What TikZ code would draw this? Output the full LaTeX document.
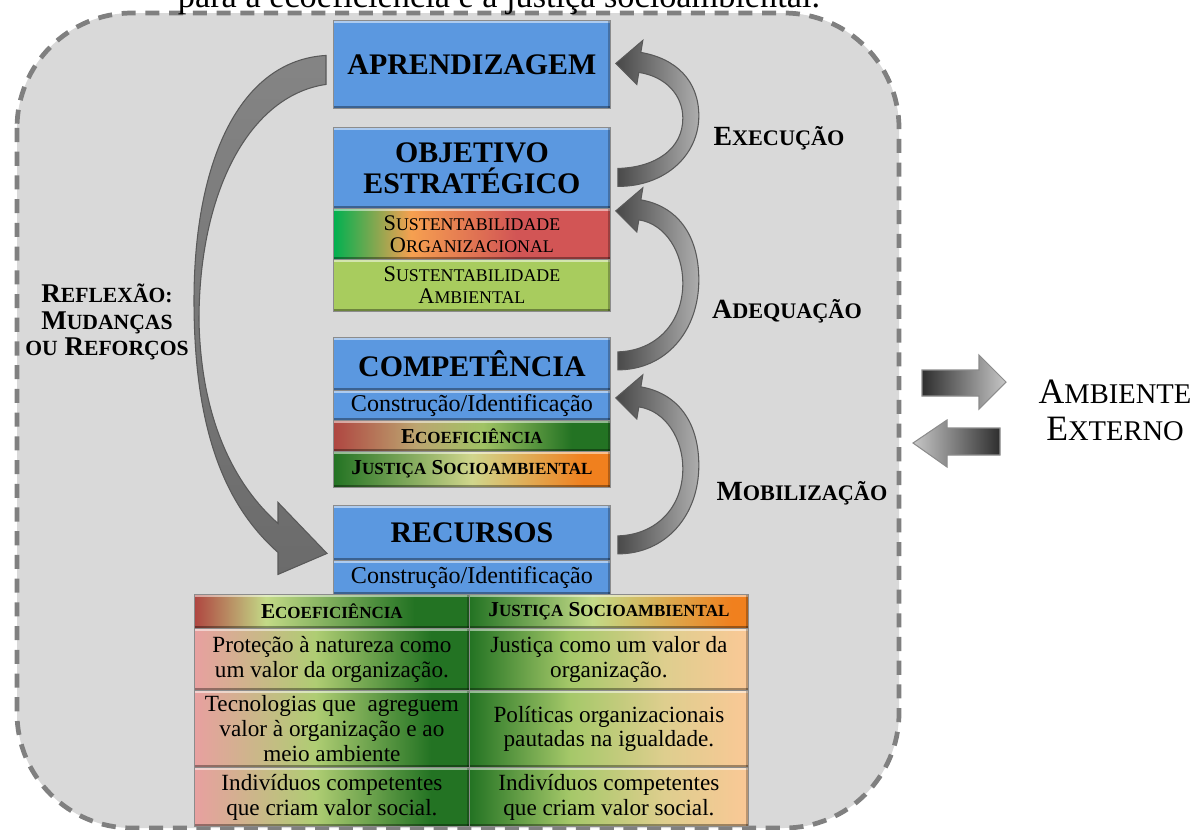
\documentclass[tikz,border=0pt]{standalone}
\usepackage{fontspec}
\setmainfont{Liberation Serif}
\usepackage{graphicx}
\usetikzlibrary{calc}

% fake small capitals: shrink the lower-case part of a word
\newcommand\lo[1]{\scalebox{0.8}{#1}}

\definecolor{bggrey}{RGB}{217,217,217}
\definecolor{bxblue}{RGB}{91,152,224}
\definecolor{sgreen}{RGB}{0,176,80}
\definecolor{sorange}{RGB}{246,160,80}
\definecolor{sred}{RGB}{210,85,85}
\definecolor{samb}{RGB}{168,204,94}
\definecolor{ered}{RGB}{175,70,65}
\definecolor{etan}{RGB}{188,165,112}
\definecolor{emid}{RGB}{160,195,100}
\definecolor{dgreen}{RGB}{35,115,35}
\definecolor{lgreen}{RGB}{195,218,135}
\definecolor{jlight}{RGB}{208,214,140}
\definecolor{jorange}{RGB}{240,128,30}
\definecolor{pinkc}{RGB}{232,160,160}
\definecolor{bmid}{RGB}{175,205,115}
\definecolor{rmid}{RGB}{165,200,105}
\definecolor{rtan}{RGB}{222,206,142}
\definecolor{peach}{RGB}{250,200,150}

% horizontal colour ramps (the 25bp..75bp range spans the box)
\pgfdeclarehorizontalshading{sorg}{100bp}{color(0bp)=(sgreen); color(25bp)=(sgreen); color(39bp)=(sorange); color(58bp)=(sred); color(75bp)=(sred); color(100bp)=(sred)}
\pgfdeclarehorizontalshading{ecoc}{100bp}{color(0bp)=(ered); color(25bp)=(ered); color(40bp)=(etan); color(52bp)=(emid); color(68bp)=(dgreen); color(75bp)=(dgreen); color(100bp)=(dgreen)}
\pgfdeclarehorizontalshading{jusc}{100bp}{color(0bp)=(dgreen); color(25bp)=(dgreen); color(50bp)=(jlight); color(70bp)=(jorange); color(75bp)=(jorange); color(100bp)=(jorange)}
\pgfdeclarehorizontalshading{hleft}{100bp}{color(0bp)=(ered); color(25bp)=(ered); color(38bp)=(lgreen); color(65bp)=(dgreen); color(75bp)=(dgreen); color(100bp)=(dgreen)}
\pgfdeclarehorizontalshading{hright}{100bp}{color(0bp)=(dgreen); color(25bp)=(dgreen); color(47bp)=(lgreen); color(72bp)=(jorange); color(75bp)=(jorange); color(100bp)=(jorange)}
\pgfdeclarehorizontalshading{bleft}{100bp}{color(0bp)=(pinkc); color(25bp)=(pinkc); color(47bp)=(bmid); color(68bp)=(dgreen); color(75bp)=(dgreen); color(100bp)=(dgreen)}
\pgfdeclarehorizontalshading{bright}{100bp}{color(0bp)=(dgreen); color(25bp)=(dgreen); color(43bp)=(rmid); color(60bp)=(rtan); color(75bp)=(peach); color(100bp)=(peach)}

% curved block arrow: tip at the given point, tail #2 pixels lower
\newcommand\bendarrow[2]{%
  \begin{scope}[shift={(#1)}]
    \path[arrowgrey] (2,{#2+9}) .. controls (50,{#2+9}) and (83,{0.8*#2}) .. (83,{0.46*#2})
      .. controls (83,{0.15*#2}) and (60,-5) .. (25,-11) -- (27,-23) -- (0,0) -- (21,21) -- (23,9)
      .. controls (50,13) and (67,{0.28*#2}) .. (67,{0.48*#2})
      .. controls (67,{0.75*#2}) and (40,{#2-10}) .. (2,{#2-9}) -- cycle;
  \end{scope}}

\begin{document}
\begin{tikzpicture}[x=0.02cm, y=-0.02cm,
  bevel/.style={path picture={
    \draw[white, opacity=0.5, line width=1.5pt]
      ([yshift=-0.9pt]path picture bounding box.north west) -- ([yshift=-0.9pt]path picture bounding box.north east);
    \draw[black, opacity=0.35, line width=1.6pt]
      ([yshift=0.6pt]path picture bounding box.south west) -- ([yshift=0.6pt]path picture bounding box.south east);
    \draw[black, opacity=0.25, line width=1.6pt]
      ([xshift=-0.6pt]path picture bounding box.south east) -- ([xshift=-0.6pt]path picture bounding box.north east);}},
  cell/.style={draw=black!45, line width=0.5pt, inner sep=0pt, anchor=north west, align=center, bevel},
  bluebox/.style={cell, fill=bxblue, minimum width=5.54cm, font=\fontsize{17}{17.5}\selectfont\bfseries},
  subbox/.style={cell, minimum width=5.54cm},
  leftcol/.style={cell, minimum width=5.5cm},
  rightcol/.style={cell, minimum width=5.58cm},
  body/.style={font=\fontsize{13.2}{14.2}\selectfont},
  head/.style={font=\fontsize{12.1}{12.5}\selectfont\bfseries},
  lab/.style={font=\fontsize{15.8}{16}\selectfont\bfseries, align=center},
  arrowgrey/.style={draw=black!65, line width=0.6pt, left color=black!72, right color=black!32},
]
\useasboundingbox (0,0) rectangle (1200,829);

% dashed frame of the organisation
\path[draw=black!50, fill=bggrey, line width=2.7pt, dash pattern=on 8pt off 5.5pt, rounded corners=2.3cm]
  (17,13) rectangle (899,828);

\node[anchor=base, font=\fontsize{19.5}{20}\selectfont] (title) at (499,7)
  {para a ecoeficiência e a justiça socioambiental.};

% central column
\node[bluebox, minimum height=1.76cm] (apr) at (333,20) {APRENDIZAGEM};
\node[bluebox, minimum height=1.62cm] (obj) at (333,127) {OBJETIVO\\ESTRATÉGICO};
\node[subbox, shade, shading=sorg, minimum height=1.02cm, font=\fontsize{12.7}{12.5}\selectfont] (sorg) at (333,208)
  {S\lo{USTENTABILIDADE}\\O\lo{RGANIZACIONAL}};
\node[subbox, fill=samb, minimum height=1.04cm, font=\fontsize{12.7}{12.5}\selectfont] (samb) at (333,259)
  {S\lo{USTENTABILIDADE}\\A\lo{MBIENTAL}};

\node[bluebox, minimum height=1.06cm] (comp) at (333,337) {COMPETÊNCIA};
\node[subbox, fill=bxblue, minimum height=0.6cm, font=\fontsize{13.7}{14}\selectfont] (cid1) at (333,390) {Construção/Identificação};
\node[subbox, shade, shading=ecoc, minimum height=0.62cm, head] (ecoc) at (333,420) {E\lo{COEFICIÊNCIA}};
\node[subbox, shade, shading=jusc, minimum height=0.72cm, head] (jusc) at (333,451) {J\lo{USTIÇA} S\lo{OCIOAMBIENTAL}};

\node[bluebox, minimum height=1.1cm] (rec) at (333,505) {RECURSOS};
\node[subbox, fill=bxblue, minimum height=0.68cm, font=\fontsize{13.7}{14}\selectfont] (cid2) at (333,560) {Construção/Identificação};

% resources table
\node[leftcol, shade, shading=hleft, minimum height=0.68cm, head] (h1) at (194,594) {E\lo{COEFICIÊNCIA}};
\node[rightcol, shade, shading=hright, minimum height=0.68cm, head] (h2) at (469,594) {J\lo{USTIÇA} S\lo{OCIOAMBIENTAL}};
\node[leftcol, shade, shading=bleft, minimum height=1.24cm, body] (l1) at (194,628) {Proteção à natureza como\\um valor da organização.};
\node[rightcol, shade, shading=bright, minimum height=1.24cm, body] (r1) at (469,628) {Justiça como um valor da\\organização.};
\node[leftcol, shade, shading=bleft, minimum height=1.54cm, body] (l2) at (194,690) {Tecnologias que\ \ agreguem\\valor à organização e ao\\meio ambiente};
\node[rightcol, shade, shading=bright, minimum height=1.54cm, body] (r2) at (469,690) {Políticas organizacionais\\pautadas na igualdade.};
\node[leftcol, shade, shading=bleft, minimum height=1.18cm, body] (l3) at (194,767) {Indivíduos competentes\\que criam valor social.};
\node[rightcol, shade, shading=bright, minimum height=1.18cm, body] (r3) at (469,767) {Indivíduos competentes\\que criam valor social.};

% reflection arrow from learning back to resources
\begin{scope}[shift={(apr.west)}]
  \path[draw=black!65, line width=0.6pt, top color=black!48, bottom color=black!58]
    (-7,-9) .. controls (-93,-4) and (-139,96) .. (-139,236)
    .. controls (-139,366) and (-108,441) .. (-55,488)
    -- (-55,510) -- (-6,489) -- (-55,438) -- (-55,459)
    .. controls (-98,421) and (-132,356) .. (-134,256)
    .. controls (-134,126) and (-83,31) .. (-7,20) -- cycle;
\end{scope}

% upward cycle arrows
\bendarrow{$(apr.east)+(5,-1)$}{114}
\bendarrow{$(obj.south east)+(5,2)$}{150}
\bendarrow{$(comp.south east)+(5,7)$}{147}

\node[lab] (exe) at (779,138) {E\lo{XECUÇÃO}};
\node[lab] (ade) at (787,311) {A\lo{DEQUAÇÃO}};
\node[lab] (mob) at (802,493) {M\lo{OBILIZAÇÃO}};
\node[font=\fontsize{15.4}{15}\selectfont\bfseries, align=center] (refl) at (107,322)
  {R\lo{EFLEXÃO:}\\M\lo{UDANÇAS}\\\lo{OU} R\lo{EFORÇOS}};

% exchange with the external environment
\node[font=\fontsize{20.3}{21}\selectfont, align=center] (amb) at (1115,410) {A\lo{MBIENTE}\\E\lo{XTERNO}};
\path[draw=black!45, line width=0.6pt, left color=black!82, right color=black!22]
  (922,370) -- (979,370) -- (979,355) -- (1006,382) -- (979,409) -- (979,396) -- (922,396) -- cycle;
\path[draw=black!45, line width=0.6pt, left color=black!22, right color=black!82]
  (1000,428) -- (947,428) -- (947,420) -- (913,443) -- (947,467) -- (947,455) -- (1000,455) -- cycle;
\end{tikzpicture}
\end{document}
